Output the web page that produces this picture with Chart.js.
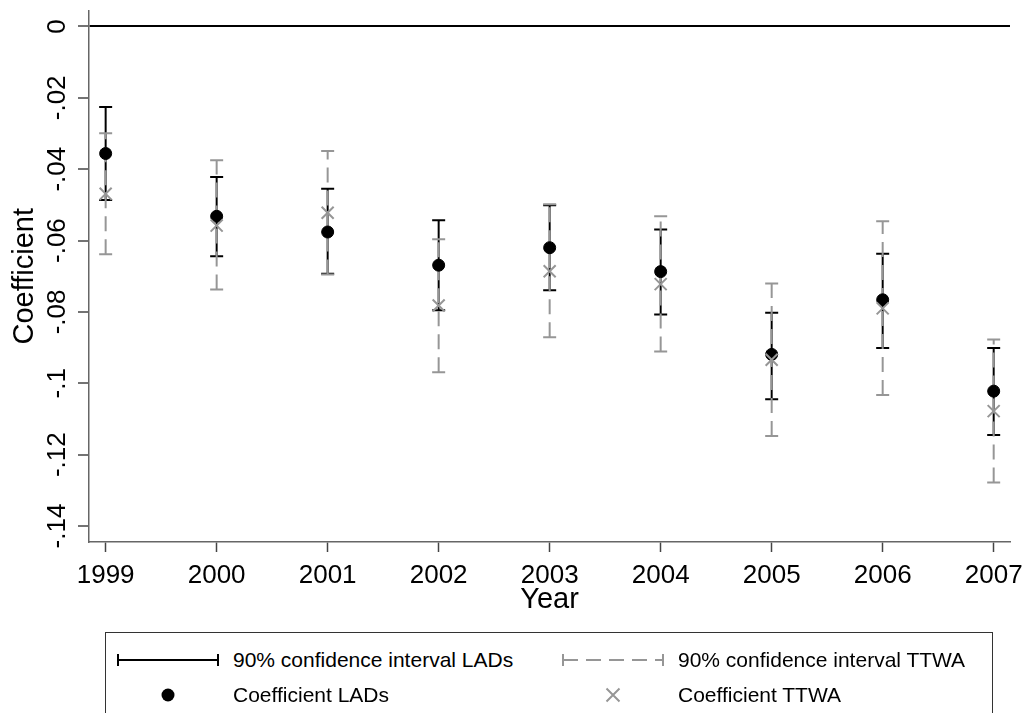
<!DOCTYPE html>
<html>
<head>
<meta charset="utf-8">
<title>Coefficient by year, LADs and TTWA</title>
<script src="https://cdn.jsdelivr.net/npm/chart.js@4/dist/chart.umd.min.js"></script>
<style>
  html, body { margin: 0; padding: 0; background: #fff; }
  #wrap { position: relative; width: 1031px; height: 713px; overflow: hidden;
          font-family: "Liberation Sans", Arial, sans-serif; }
  #chart { position: absolute; left: 0; top: 0; }
  #legend { position: absolute; left: 105px; top: 632px; width: 888px; height: 110px;
            box-sizing: border-box; border: 1px solid #333; background: #fff;
            padding: 9px 0 0 11px; display: grid;
            grid-template-columns: 445px auto; grid-auto-rows: 35px; }
  .item { display: flex; align-items: center; font-size: 21px; color: #000; white-space: nowrap; }
  .item canvas { margin-right: 14px; flex: none; }
</style>
</head>
<body>
<div id="wrap">
  <canvas id="chart" width="1031" height="713"></canvas>
  <div id="legend"></div>
</div>
<script>
// Estimated coefficients and 90% confidence bounds per year
const years    = [1999, 2000, 2001, 2002, 2003, 2004, 2005, 2006, 2007];
const coefLAD  = [-0.0356, -0.0532, -0.0576, -0.0669, -0.0620, -0.0687, -0.0919, -0.0766, -0.1022];
const lowLAD   = [-0.0486, -0.0644, -0.0693, -0.0795, -0.0739, -0.0807, -0.1045, -0.0901, -0.1145];
const highLAD  = [-0.0226, -0.0422, -0.0455, -0.0543, -0.0501, -0.0569, -0.0802, -0.0637, -0.0901];
const coefTTWA = [-0.0469, -0.0558, -0.0522, -0.0782, -0.0686, -0.0722, -0.0934, -0.0790, -0.1078];
const lowTTWA  = [-0.0638, -0.0737, -0.0695, -0.0969, -0.0871, -0.0911, -0.1148, -0.1033, -0.1278];
const highTTWA = [-0.0299, -0.0375, -0.0349, -0.0596, -0.0498, -0.0532, -0.0720, -0.0546, -0.0877];

// Y axis ticks and their printed labels
const yTickValues = [-0.14, -0.12, -0.10, -0.08, -0.06, -0.04, -0.02, 0];
const yTickLabels = ['-.14', '-.12', '-.1', '-.08', '-.06', '-.04', '-.02', '0'];

const GREY = '#969696';

// One vertical segment per year, separated by gaps
function intervalPoints(lo, hi) {
  return years.flatMap((yr, i) => [
    { x: yr, y: lo[i] },
    { x: yr, y: hi[i] },
    { x: yr, y: null }
  ]);
}

function drawSymbol(ctx, ds) {
  const w = ctx.canvas.width, h = ctx.canvas.height, cy = h / 2;
  if (ds.showLine) {
    ctx.strokeStyle = ds.borderColor;
    ctx.lineWidth = ds.borderWidth;
    ctx.setLineDash(ds.borderDash || []);
    ctx.beginPath(); ctx.moveTo(1, cy); ctx.lineTo(w - 1, cy); ctx.stroke();
    ctx.setLineDash([]);
    ctx.beginPath();
    ctx.moveTo(1, cy - 6); ctx.lineTo(1, cy + 6);
    ctx.moveTo(w - 1, cy - 6); ctx.lineTo(w - 1, cy + 6);
    ctx.stroke();
  } else if (ds.pointStyle === 'circle') {
    ctx.fillStyle = ds.backgroundColor;
    ctx.beginPath(); ctx.arc(w / 2, cy, 6.5, 0, Math.PI * 2); ctx.fill();
  } else {
    const r = 6.5;
    ctx.strokeStyle = ds.borderColor;
    ctx.lineWidth = 2;
    ctx.beginPath();
    ctx.moveTo(w / 2 - r, cy - r); ctx.lineTo(w / 2 + r, cy + r);
    ctx.moveTo(w / 2 - r, cy + r); ctx.lineTo(w / 2 + r, cy - r);
    ctx.stroke();
  }
}

// Two-column legend box built from the datasets
const htmlLegend = {
  id: 'htmlLegend',
  afterUpdate(chart, args, opts) {
    const box = document.getElementById(opts.containerID);
    box.innerHTML = '';
    chart.data.datasets.forEach(ds => {
      const item = document.createElement('div');
      item.className = 'item';
      const sym = document.createElement('canvas');
      sym.width = 102; sym.height = 20;
      drawSymbol(sym.getContext('2d'), ds);
      const label = document.createElement('span');
      label.textContent = ds.label;
      item.append(sym, label);
      box.appendChild(item);
    });
  }
};

Chart.defaults.font.family = '"Liberation Sans", Arial, sans-serif';
Chart.defaults.color = '#000';

new Chart(document.getElementById('chart'), {
  type: 'scatter',
  data: {
    datasets: [
      {
        label: '90% confidence interval LADs',
        data: intervalPoints(lowLAD, highLAD),
        showLine: true, spanGaps: false,
        borderColor: '#000', borderWidth: 2,
        pointStyle: 'line', pointRadius: 6.5, pointBorderWidth: 2,
        pointBorderColor: '#000', pointBackgroundColor: '#000',
        order: 4
      },
      {
        label: '90% confidence interval TTWA',
        data: intervalPoints(lowTTWA, highTTWA),
        showLine: true, spanGaps: false,
        borderColor: GREY, borderWidth: 2, borderDash: [15, 8],
        pointStyle: 'line', pointRadius: 6.5, pointBorderWidth: 2,
        pointBorderColor: GREY, pointBackgroundColor: GREY,
        order: 3
      },
      {
        label: 'Coefficient LADs',
        data: years.map((yr, i) => ({ x: yr, y: coefLAD[i] })),
        pointStyle: 'circle', pointRadius: 6, pointBorderWidth: 1,
        backgroundColor: '#000', borderColor: '#000',
        order: 2
      },
      {
        label: 'Coefficient TTWA',
        data: years.map((yr, i) => ({ x: yr, y: coefTTWA[i] })),
        pointStyle: 'crossRot', pointRadius: 8.5, pointBorderWidth: 2,
        backgroundColor: GREY, borderColor: GREY,
        order: 1
      }
    ]
  },
  options: {
    responsive: false,
    animation: false,
    layout: { padding: { top: 10, right: 21, bottom: 94, left: 0 } },
    plugins: {
      legend: { display: false },
      tooltip: { enabled: false },
      htmlLegend: { containerID: 'legend' }
    },
    scales: {
      x: {
        type: 'linear',
        position: 'bottom',
        min: 1998.85,
        max: 2007.147,
        afterBuildTicks: s => { s.ticks = years.map(v => ({ value: v })); },
        afterFit: s => { s.height = 77; s.paddingLeft = 0; s.paddingRight = 0; },
        ticks: {
          font: { size: 26 }, color: '#000', padding: 8,
          maxRotation: 0, autoSkip: false,
          callback: v => String(v)
        },
        grid: {
          drawOnChartArea: false, drawTicks: true,
          tickLength: 10, tickColor: '#444', tickWidth: 1.5
        },
        border: { color: '#666', width: 1.5 },
        title: {
          display: true, text: 'Year', color: '#000',
          font: { size: 29, lineHeight: 1 },
          padding: { top: 0, bottom: 5 }
        }
      },
      y: {
        type: 'linear',
        position: 'left',
        min: -0.14448,
        max: 0.00448,
        afterBuildTicks: s => { s.ticks = yTickValues.map(v => ({ value: v })); },
        afterFit: s => { s.width = 89; s.paddingTop = 0; s.paddingBottom = 0; },
        ticks: {
          font: { size: 26 }, color: '#000', padding: -2,
          minRotation: 90, maxRotation: 90, crossAlign: 'center',
          autoSkip: false,
          callback: v => yTickLabels[yTickValues.indexOf(v)]
        },
        grid: {
          color: c => (c.tick && c.tick.value === 0) ? '#000' : 'rgba(0,0,0,0)',
          lineWidth: 2,
          drawTicks: true, tickLength: 11, tickColor: '#444', tickWidth: 1.5
        },
        border: { color: '#666', width: 1.5 },
        title: {
          display: true, text: 'Coefficient', color: '#000',
          font: { size: 29, lineHeight: 1 },
          padding: { top: 10, bottom: 0 }
        }
      }
    }
  },
  plugins: [htmlLegend]
});
</script>
</body>
</html>
